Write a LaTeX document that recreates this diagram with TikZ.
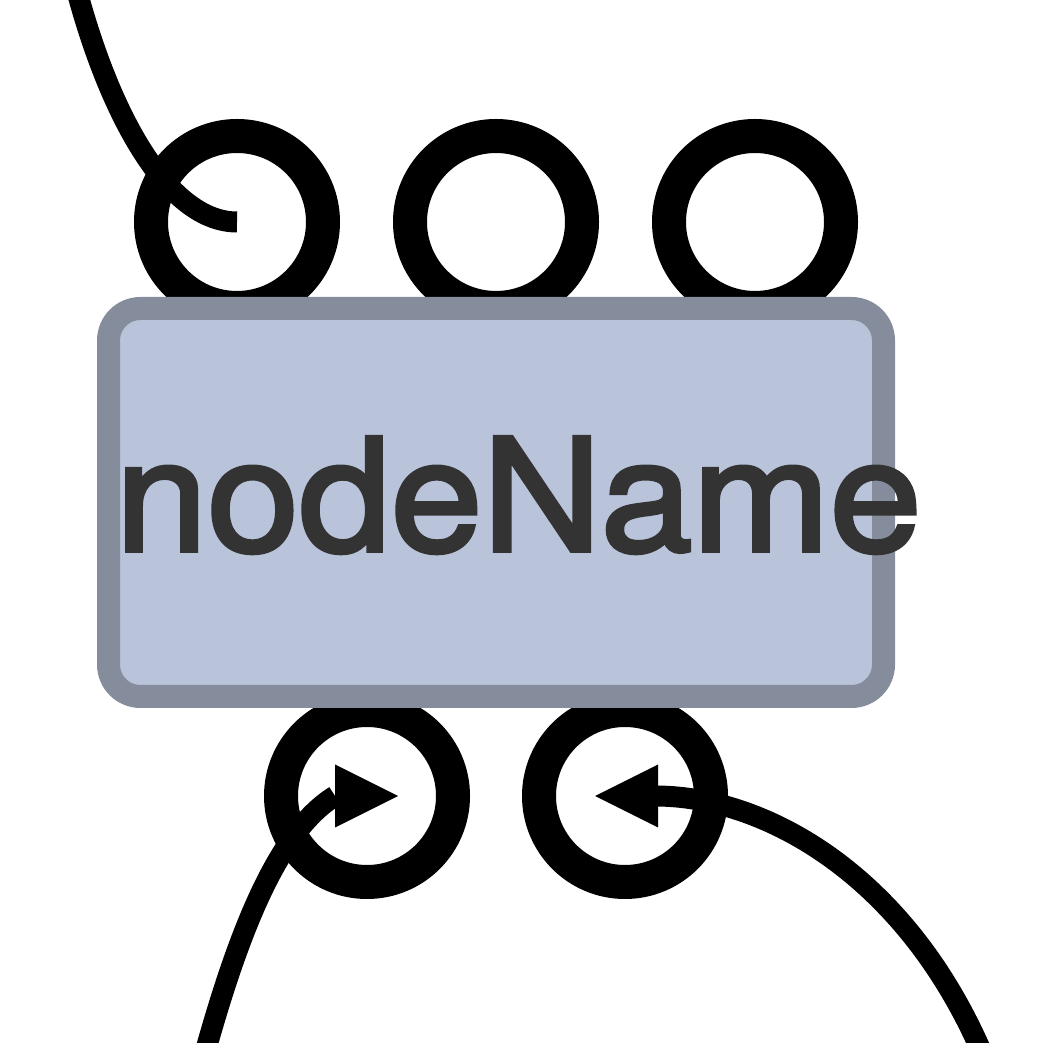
\documentclass[tikz,border=0pt]{standalone}
\usepackage{fontspec}
\setmainfont{TeX Gyre Heros}
\newfontfamily\labelfont[FakeBold=2.5]{TeX Gyre Heros}
\usetikzlibrary{arrows.meta}
\definecolor{nodefill}{HTML}{B9C4DB}
\definecolor{nodeline}{HTML}{858C9B}
\definecolor{nodetext}{HTML}{333333}

\begin{document}
\begin{tikzpicture}[
    port/.style={circle, draw=black, line width=3.4mm, minimum size=17.2mm, inner sep=0pt},
    wire/.style={line width=2.1mm, black},
    headed/.style={-{Triangle[length=6.3mm, width=6.3mm, line width=0pt]}}
]
    \useasboundingbox (0,0) rectangle (10.48,10.42);
    \clip (0,0) rectangle (10.48,10.42);
    % Viršutiniai prievadai
    \foreach \i/\x in {1/2.37, 2/4.96, 3/7.55} {
        \node[port] (in\i) at (\x,8.20) {};
    }
    % Apatiniai prievadai
    \node[port] (out1) at (3.67,2.46) {};
    \node[port] (out2) at (6.25,2.46) {};
    % Mazgas
    \node[draw=nodeline, fill=nodefill, line width=2.3mm, rounded corners=3.2mm,
          minimum width=7.75cm, minimum height=3.88cm] (body) at (4.96,5.395) {};
    \node[anchor=base west, inner sep=0pt, text=nodetext,
          font=\labelfont\fontsize{44.6}{50}\selectfont] (label) at (1.15,4.91)
          {\scalebox{1.052}[1]{nodeName}};
    % Jungtys
    \coordinate (srcA) at (0.74,10.62);
    \coordinate (srcB) at (2.03,-0.18);
    \coordinate (srcC) at (9.85,-0.18);
    \draw[wire] (srcA) .. controls (1.10,9.22) and (1.70,8.20) .. (in1.center);
    \draw[wire, headed] (srcB) .. controls (2.40,1.17) and (2.80,2.12) .. ([xshift=-3.2mm]out1.center)
        -- ([xshift=3.1mm]out1.center);
    \draw[wire, headed] (srcC) .. controls (9.10,1.62) and (7.70,2.45) .. ([xshift=3.2mm]out2.center)
        -- ([xshift=-3mm]out2.center);
\end{tikzpicture}
\end{document}
